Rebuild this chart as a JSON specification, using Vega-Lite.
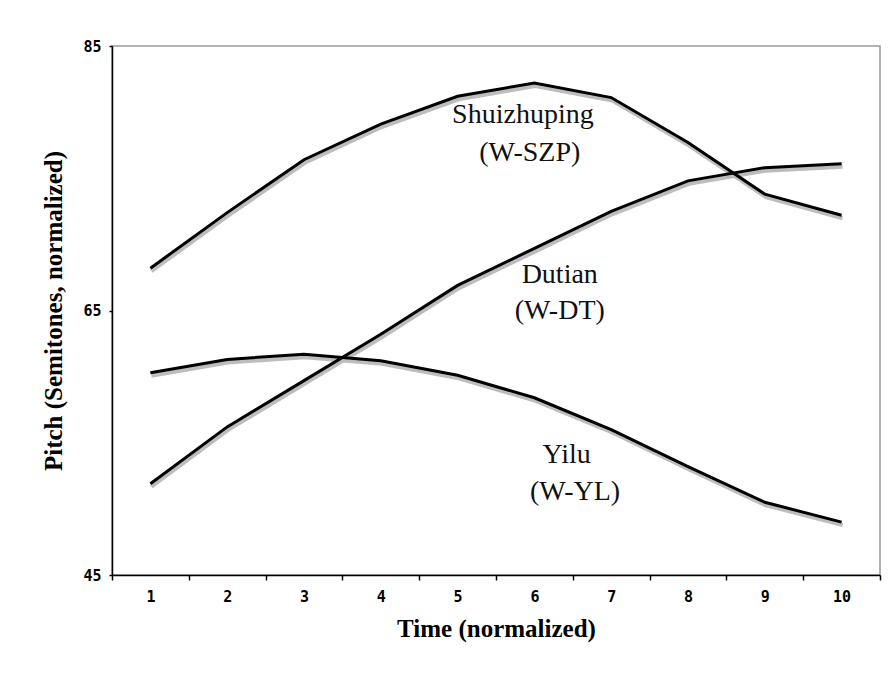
{
  "$schema": "https://vega.github.io/schema/vega-lite/v6.json",
  "width": 768,
  "height": 529,
  "autosize": {"type": "none"},
  "padding": {"left": 112, "top": 46, "right": 9, "bottom": 98},
  "background": "white",
  "config": {
    "view": {"stroke": "#999999", "strokeWidth": 1.5},
    "axis": {"grid": false, "domainColor": "black", "domainWidth": 1.5, "tickColor": "black", "tickWidth": 1.5, "labelColor": "black", "titleColor": "black"}
  },
  "datasets": {
    "pitch": [
      {"t": 1, "v": 68.2, "s": "Shuizhuping"}, {"t": 2, "v": 72.4, "s": "Shuizhuping"}, {"t": 3, "v": 76.4, "s": "Shuizhuping"}, {"t": 4, "v": 79.1, "s": "Shuizhuping"}, {"t": 5, "v": 81.2, "s": "Shuizhuping"}, {"t": 6, "v": 82.2, "s": "Shuizhuping"}, {"t": 7, "v": 81.1, "s": "Shuizhuping"}, {"t": 8, "v": 77.7, "s": "Shuizhuping"}, {"t": 9, "v": 73.8, "s": "Shuizhuping"}, {"t": 10, "v": 72.2, "s": "Shuizhuping"},
      {"t": 1, "v": 51.9, "s": "Dutian"}, {"t": 2, "v": 56.2, "s": "Dutian"}, {"t": 3, "v": 59.7, "s": "Dutian"}, {"t": 4, "v": 63.2, "s": "Dutian"}, {"t": 5, "v": 66.9, "s": "Dutian"}, {"t": 6, "v": 69.7, "s": "Dutian"}, {"t": 7, "v": 72.5, "s": "Dutian"}, {"t": 8, "v": 74.8, "s": "Dutian"}, {"t": 9, "v": 75.8, "s": "Dutian"}, {"t": 10, "v": 76.1, "s": "Dutian"},
      {"t": 1, "v": 60.3, "s": "Yilu"}, {"t": 2, "v": 61.3, "s": "Yilu"}, {"t": 3, "v": 61.7, "s": "Yilu"}, {"t": 4, "v": 61.2, "s": "Yilu"}, {"t": 5, "v": 60.1, "s": "Yilu"}, {"t": 6, "v": 58.4, "s": "Yilu"}, {"t": 7, "v": 56.0, "s": "Yilu"}, {"t": 8, "v": 53.2, "s": "Yilu"}, {"t": 9, "v": 50.5, "s": "Yilu"}, {"t": 10, "v": 49.0, "s": "Yilu"}
    ],
    "labels": [
      {"t": 5.85, "v": 79.8, "text": "Shuizhuping"},
      {"t": 5.94, "v": 76.9, "text": "(W-SZP)"},
      {"t": 6.33, "v": 67.7, "text": "Dutian"},
      {"t": 6.33, "v": 65.0, "text": "(W-DT)"},
      {"t": 6.42, "v": 54.1, "text": "Yilu"},
      {"t": 6.53, "v": 51.3, "text": "(W-YL)"}
    ]
  },
  "resolve": {"axis": {"x": "independent"}},
  "layer": [
    {
      "data": {"name": "pitch"},
      "mark": {"type": "line", "color": "#bdbdbd", "strokeWidth": 4, "yOffset": 3, "xOffset": 1},
      "encoding": {
        "x": {"field": "t", "type": "quantitative", "scale": {"domain": [0.5, 10.5], "nice": false, "zero": false},
          "axis": {
            "orient": "bottom",
            "values": [1, 2, 3, 4, 5, 6, 7, 8, 9, 10],
            "format": "d",
            "ticks": false,
            "labelFont": "DejaVu Sans Mono", "labelFontSize": 15, "labelFontWeight": "bold",
            "labelPadding": 14,
            "title": "Time (normalized)", "titleFont": "Liberation Serif", "titleFontWeight": "bold", "titleFontSize": 25, "titlePadding": 12
          }},
        "y": {"field": "v", "type": "quantitative", "scale": {"domain": [45, 85], "nice": false, "zero": false},
          "axis": {
            "values": [45, 65, 85], "tickSize": 3,
            "labelFont": "DejaVu Sans Mono", "labelFontSize": 15, "labelFontWeight": "bold",
            "labelPadding": 8,
            "title": "Pitch (Semitones, normalized)", "titleFont": "Liberation Serif", "titleFontWeight": "bold", "titleFontSize": 25, "titlePadding": 16
          }},
        "detail": {"field": "s"}
      }
    },
    {
      "data": {"name": "pitch"},
      "mark": {"type": "line", "color": "black", "strokeWidth": 3},
      "encoding": {
        "x": {"field": "t", "type": "quantitative", "axis": null},
        "y": {"field": "v", "type": "quantitative"},
        "detail": {"field": "s"}
      }
    },
    {
      "data": {"name": "labels"},
      "mark": {"type": "text", "font": "Liberation Serif", "fontSize": 28, "align": "center", "baseline": "middle", "color": "#111111"},
      "encoding": {
        "x": {"field": "t", "type": "quantitative",
          "axis": {
            "orient": "bottom",
            "values": [0.5, 1.5, 2.5, 3.5, 4.5, 5.5, 6.5, 7.5, 8.5, 9.5, 10.5],
            "labels": false, "domain": false, "ticks": true, "tickSize": 5, "title": null
          }},
        "y": {"field": "v", "type": "quantitative"},
        "text": {"field": "text"}
      }
    }
  ]
}
